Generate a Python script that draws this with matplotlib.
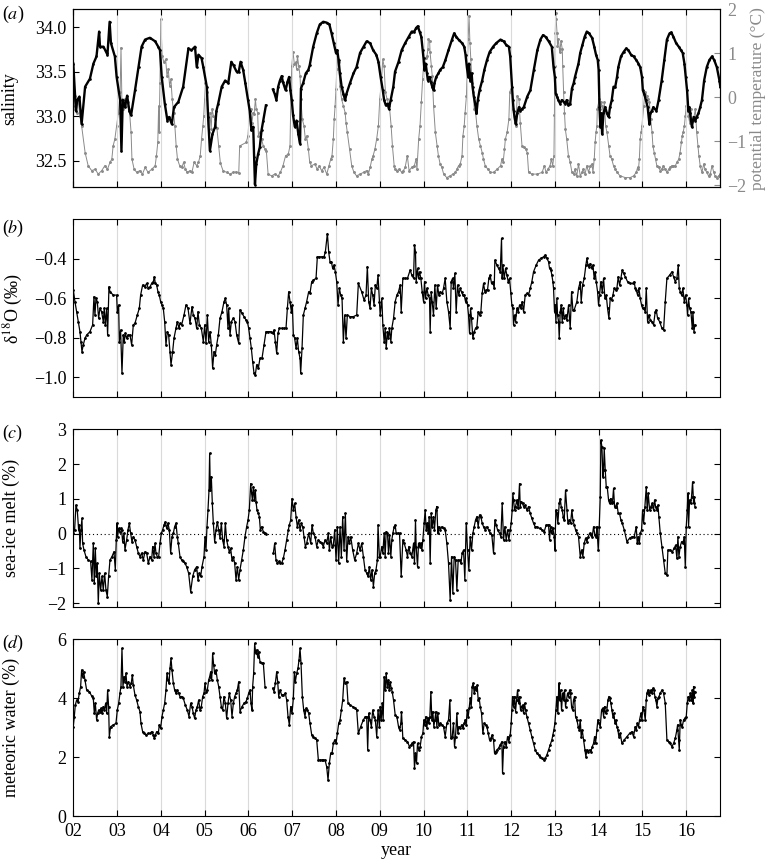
#!/usr/bin/env python3
"""Four-panel time series: salinity/temperature, d18O, sea-ice melt, meteoric water."""

import matplotlib
matplotlib.use("Agg")
import matplotlib.pyplot as plt
import numpy as np

nan = float("nan")

# (year, value) pairs
salinity = [
    (2002.00, 33.59), (2002.06, 33.06), (2002.09, 33.18), (2002.14, 33.22), (2002.17, 33.03), (2002.19, 32.91),
    (2002.27, 33.33), (2002.38, 33.42), (2002.46, 33.59), (2002.53, 33.67), (2002.59, 33.95), (2002.61, 33.78),
    (2002.69, 33.78), (2002.76, 33.71), (2002.78, 33.69), (2002.83, 34.06), (2002.86, 33.82), (2002.95, 33.67),
    (2002.99, 33.44), (2003.07, 33.18), (2003.10, 32.61), (2003.13, 33.18), (2003.18, 33.10), (2003.23, 33.23),
    (2003.28, 33.06), (2003.32, 33.01), (2003.41, 33.29), (2003.49, 33.55), (2003.56, 33.78), (2003.64, 33.86),
    (2003.75, 33.88), (2003.87, 33.84), (2003.94, 33.78), (2003.98, 33.74), (2004.02, 33.44), (2004.09, 33.14),
    (2004.15, 32.95), (2004.19, 32.99), (2004.25, 32.91), (2004.30, 33.10), (2004.40, 33.16), (2004.51, 33.33),
    (2004.63, 33.76), (2004.70, 33.74), (2004.78, 33.78), (2004.82, 33.55), (2004.86, 33.69), (2004.93, 33.65),
    (2004.97, 33.55), (2005.05, 33.33), (2005.08, 32.99), (2005.12, 32.61), (2005.18, 32.80), (2005.24, 32.88),
    (2005.27, 33.06), (2005.31, 33.14), (2005.39, 33.33), (2005.47, 33.40), (2005.54, 33.37), (2005.61, 33.61),
    (2005.66, 33.57), (2005.73, 33.50), (2005.78, 33.50), (2005.82, 33.61), (2005.88, 33.52), (2005.93, 33.37),
    (2005.99, 33.18), (2006.03, 33.06), (2006.07, 32.84), (2006.11, 32.88), (2006.13, 32.54), (2006.15, 32.23),
    (2006.18, 32.46), (2006.22, 32.57), (2006.26, 32.65), (2006.30, 32.84), (2006.34, 32.95), (2006.40, 33.12),
    (2006.48, nan),
    (2006.56, 33.30), (2006.60, 33.25), (2006.64, 33.18), (2006.68, 33.33), (2006.72, 33.40), (2006.76, 33.45),
    (2006.79, 33.38), (2006.83, 33.32), (2006.85, 33.29), (2006.89, 33.38), (2006.93, 33.44), (2006.96, 33.29),
    (2006.99, 33.18), (2007.02, 33.01), (2007.06, 32.88), (2007.10, 32.95), (2007.14, 32.80), (2007.18, 32.69),
    (2007.20, 33.31), (2007.25, 33.37), (2007.31, 33.48), (2007.37, 33.52), (2007.40, 33.57), (2007.48, 33.78),
    (2007.56, 33.93), (2007.63, 34.03), (2007.71, 34.06), (2007.79, 34.05), (2007.85, 34.03), (2007.90, 33.93),
    (2007.95, 33.82), (2008.00, 33.71), (2008.03, 33.74), (2008.06, 33.63), (2008.09, 33.48), (2008.13, 33.33),
    (2008.17, 33.25), (2008.21, 33.18), (2008.24, 33.25), (2008.32, 33.37), (2008.40, 33.48), (2008.47, 33.55),
    (2008.55, 33.71), (2008.63, 33.78), (2008.70, 33.84), (2008.78, 33.82), (2008.85, 33.74), (2008.92, 33.69),
    (2008.97, 33.61), (2009.02, 33.44), (2009.07, 33.29), (2009.10, 33.18), (2009.14, 33.12), (2009.18, 33.14),
    (2009.21, 33.08), (2009.25, 33.18), (2009.31, 33.33), (2009.35, 33.50), (2009.43, 33.61), (2009.50, 33.74),
    (2009.58, 33.82), (2009.66, 33.89), (2009.73, 33.95), (2009.79, 33.95), (2009.83, 33.99), (2009.87, 34.01),
    (2009.91, 33.95), (2009.95, 33.89), (2009.98, 33.74), (2010.00, 33.65), (2010.02, 33.52), (2010.05, 33.59),
    (2010.08, 33.48), (2010.10, 33.40), (2010.14, 33.44), (2010.17, 33.38), (2010.20, 33.33), (2010.23, 33.29),
    (2010.25, 33.37), (2010.29, 33.44), (2010.34, 33.48), (2010.38, 33.52), (2010.44, 33.55), (2010.50, 33.63),
    (2010.57, 33.74), (2010.65, 33.86), (2010.70, 33.93), (2010.75, 33.89), (2010.80, 33.86), (2010.88, 33.82),
    (2010.93, 33.78), (2010.96, 33.69), (2010.99, 33.55), (2011.02, 33.44), (2011.04, 33.59), (2011.07, 33.40),
    (2011.10, 33.48), (2011.12, 33.33), (2011.15, 33.22), (2011.18, 33.14), (2011.21, 33.03), (2011.24, 33.18),
    (2011.28, 33.29), (2011.34, 33.40), (2011.39, 33.52), (2011.45, 33.63), (2011.51, 33.72), (2011.59, 33.78),
    (2011.66, 33.82), (2011.76, 33.86), (2011.83, 33.84), (2011.89, 33.80), (2011.95, 33.78), (2011.98, 33.67),
    (2012.02, 33.33), (2012.04, 33.18), (2012.06, 33.06), (2012.08, 32.99), (2012.11, 32.91), (2012.14, 33.03),
    (2012.18, 33.10), (2012.21, 33.06), (2012.25, 33.08), (2012.29, 33.10), (2012.37, 33.22), (2012.44, 33.29),
    (2012.52, 33.52), (2012.60, 33.74), (2012.67, 33.86), (2012.73, 33.91), (2012.79, 33.89), (2012.86, 33.84),
    (2012.93, 33.78), (2012.97, 33.55), (2013.00, 33.44), (2013.02, 33.25), (2013.05, 33.22), (2013.08, 33.18),
    (2013.12, 33.14), (2013.16, 33.18), (2013.20, 33.16), (2013.24, 33.14), (2013.27, 33.18), (2013.31, 33.12),
    (2013.35, 33.14), (2013.39, 33.31), (2013.43, 33.37), (2013.46, 33.44), (2013.54, 33.59), (2013.58, 33.71),
    (2013.63, 33.80), (2013.68, 33.89), (2013.73, 33.95), (2013.78, 33.93), (2013.85, 33.88), (2013.90, 33.78),
    (2013.94, 33.69), (2013.98, 33.63), (2014.00, 33.52), (2014.02, 33.10), (2014.04, 32.88), (2014.06, 33.03),
    (2014.08, 32.80), (2014.11, 33.03), (2014.15, 33.10), (2014.19, 33.03), (2014.23, 32.99), (2014.26, 33.10),
    (2014.30, 33.18), (2014.34, 33.33), (2014.38, 33.33), (2014.42, 33.44), (2014.45, 33.55), (2014.51, 33.67),
    (2014.57, 33.72), (2014.63, 33.76), (2014.68, 33.74), (2014.74, 33.69), (2014.80, 33.67), (2014.86, 33.63),
    (2014.91, 33.59), (2014.95, 33.55), (2014.99, 33.44), (2015.01, 33.29), (2015.04, 33.25), (2015.08, 33.18),
    (2015.12, 33.10), (2015.16, 32.91), (2015.18, 33.03), (2015.22, 33.06), (2015.25, 33.10), (2015.32, 33.06),
    (2015.37, 33.18), (2015.44, 33.40), (2015.50, 33.63), (2015.56, 33.86), (2015.62, 33.93), (2015.66, 33.94),
    (2015.71, 33.89), (2015.77, 33.82), (2015.83, 33.78), (2015.88, 33.74), (2015.92, 33.71), (2015.96, 33.59),
    (2015.99, 33.44), (2016.02, 33.29), (2016.05, 33.06), (2016.07, 33.10), (2016.09, 33.03), (2016.13, 32.88),
    (2016.17, 32.99), (2016.21, 32.95), (2016.24, 32.99), (2016.28, 33.03), (2016.32, 33.10), (2016.36, 33.18),
    (2016.41, 33.40), (2016.47, 33.55), (2016.53, 33.63), (2016.59, 33.67), (2016.64, 33.63), (2016.70, 33.55),
    (2016.76, 33.40), (2016.78, 33.33),
]

temperature = [
    (2002.00, -0.20), (2002.04, 0.03), (2002.08, -0.35), (2002.11, -0.05), (2002.15, -0.42), (2002.19, -0.65),
    (2002.27, -1.26), (2002.34, -1.56), (2002.42, -1.67), (2002.50, -1.64), (2002.57, -1.75), (2002.65, -1.67),
    (2002.72, -1.56), (2002.78, -1.64), (2002.84, -1.48), (2002.88, -1.41), (2002.91, -1.11), (2002.95, -0.95),
    (2002.99, -0.65), (2003.03, -0.35), (2003.07, 0.11), (2003.09, 1.13), (2003.11, -0.05), (2003.14, -0.27),
    (2003.17, -0.05), (2003.20, -0.20), (2003.24, -0.12), (2003.28, -0.27), (2003.32, -0.80), (2003.34, -1.41),
    (2003.39, -1.64), (2003.45, -1.71), (2003.52, -1.67), (2003.58, -1.75), (2003.64, -1.60), (2003.71, -1.71),
    (2003.79, -1.64), (2003.87, -1.56), (2003.90, -1.33), (2003.93, -1.03), (2003.95, -0.20), (2003.96, -0.80),
    (2003.98, 0.33), (2004.00, 1.77), (2004.03, 0.94), (2004.07, 0.79), (2004.11, 0.86), (2004.14, 0.48),
    (2004.17, 0.64), (2004.20, 0.26), (2004.23, 0.41), (2004.26, -0.05), (2004.29, -0.35), (2004.32, -0.65),
    (2004.35, -1.11), (2004.38, -1.41), (2004.43, -1.56), (2004.48, -1.60), (2004.52, -1.48), (2004.56, -1.64),
    (2004.60, -1.71), (2004.67, -1.67), (2004.71, -1.71), (2004.76, -1.48), (2004.82, -1.56), (2004.86, -1.48),
    (2004.90, -1.33), (2004.93, -0.95), (2004.96, -0.65), (2004.98, -0.42), (2005.00, -0.05), (2005.02, 0.33),
    (2005.05, 0.11), (2005.07, -0.50), (2005.09, -0.80), (2005.12, -0.35), (2005.15, -0.73), (2005.17, -0.27),
    (2005.20, -0.42), (2005.24, -0.50), (2005.28, -0.70), (2005.32, -1.10), (2005.36, -1.50), (2005.42, -1.67),
    (2005.50, -1.71), (2005.58, -1.75), (2005.65, -1.71), (2005.72, -1.70), (2005.78, -1.72), (2005.80, -1.11),
    (2005.95, -1.03), (2005.99, -0.88), (2006.02, -0.42), (2006.05, -0.27), (2006.08, -0.58), (2006.11, -0.35),
    (2006.13, -0.39), (2006.16, -0.05), (2006.18, -0.27), (2006.21, -0.35), (2006.23, -0.88), (2006.26, -0.80),
    (2006.30, -0.95), (2006.34, -1.11), (2006.38, -1.18), (2006.41, -1.22), (2006.45, -1.75), (2006.53, -1.79),
    (2006.60, -1.75), (2006.68, -1.79), (2006.73, -1.71), (2006.79, -1.56), (2006.85, -1.33), (2006.91, -1.30),
    (2006.95, -1.11), (2006.97, -0.05), (2006.99, 0.71), (2007.02, 1.02), (2007.05, 0.75), (2007.08, 0.79),
    (2007.10, 0.64), (2007.12, 0.94), (2007.15, 0.71), (2007.18, 0.48), (2007.20, -0.05), (2007.23, -0.50),
    (2007.27, -0.65), (2007.30, -0.95), (2007.33, -0.88), (2007.37, -1.18), (2007.40, -1.48), (2007.44, -1.56),
    (2007.52, -1.52), (2007.57, -1.64), (2007.62, -1.56), (2007.67, -1.67), (2007.73, -1.60), (2007.79, -1.75),
    (2007.84, -1.56), (2007.88, -1.41), (2007.91, -1.33), (2007.94, -0.95), (2007.96, -0.50), (2007.98, -0.20),
    (2008.00, 0.18), (2008.02, 0.64), (2008.04, 0.86), (2008.06, 0.79), (2008.09, 0.26), (2008.13, -0.05),
    (2008.17, -0.20), (2008.21, -0.35), (2008.23, -0.58), (2008.26, -0.80), (2008.31, -1.18), (2008.36, -1.56),
    (2008.41, -1.71), (2008.47, -1.79), (2008.55, -1.75), (2008.63, -1.71), (2008.70, -1.67), (2008.74, -1.75),
    (2008.78, -1.60), (2008.82, -1.41), (2008.85, -1.33), (2008.89, -1.18), (2008.93, -0.95), (2008.97, -0.65),
    (2009.00, -0.05), (2009.03, 0.26), (2009.07, 0.86), (2009.10, 0.70), (2009.13, 0.11), (2009.17, -0.05),
    (2009.22, -0.20), (2009.26, -0.65), (2009.29, -1.11), (2009.33, -1.56), (2009.35, -1.64), (2009.39, -1.67),
    (2009.45, -1.64), (2009.50, -1.71), (2009.54, -1.67), (2009.58, -1.60), (2009.63, -1.33), (2009.67, -1.67),
    (2009.73, -1.60), (2009.79, -1.56), (2009.83, -1.41), (2009.85, -1.64), (2009.89, -0.95), (2009.92, -0.65),
    (2009.95, -0.12), (2009.98, 0.41), (2010.00, 0.71), (2010.02, 0.79), (2010.05, 0.90), (2010.08, 0.94),
    (2010.10, 1.09), (2010.11, 1.32), (2010.14, 1.28), (2010.15, 1.02), (2010.18, 0.71), (2010.20, 0.48),
    (2010.23, -0.20), (2010.27, -0.80), (2010.31, -1.11), (2010.34, -1.33), (2010.38, -1.52), (2010.42, -1.60),
    (2010.46, -1.75), (2010.53, -1.83), (2010.61, -1.79), (2010.67, -1.75), (2010.73, -1.71), (2010.76, -1.64),
    (2010.80, -1.56), (2010.84, -1.52), (2010.88, -1.33), (2010.90, -0.88), (2010.93, -0.65), (2010.95, -0.35),
    (2010.98, 0.03), (2011.00, 0.71), (2011.02, 1.32), (2011.04, 1.85), (2011.06, 1.24), (2011.08, 0.86),
    (2011.11, 0.33), (2011.13, 0.11), (2011.16, -0.27), (2011.19, -0.35), (2011.22, -0.65), (2011.26, -0.95),
    (2011.30, -1.11), (2011.34, -1.26), (2011.37, -1.41), (2011.41, -1.56), (2011.47, -1.64), (2011.53, -1.71),
    (2011.60, -1.71), (2011.68, -1.64), (2011.76, -1.56), (2011.79, -1.41), (2011.82, -1.48), (2011.85, -1.18),
    (2011.87, -0.95), (2011.91, -0.80), (2011.95, -0.50), (2011.97, 0.11), (2011.99, 0.18), (2012.02, -0.05),
    (2012.05, -0.27), (2012.08, -0.58), (2012.11, -0.65), (2012.14, 0.03), (2012.18, -0.05), (2012.21, -0.58),
    (2012.25, -1.11), (2012.29, -1.14), (2012.33, -1.18), (2012.37, -1.26), (2012.40, -1.71), (2012.48, -1.75),
    (2012.60, -1.75), (2012.71, -1.71), (2012.76, -1.56), (2012.80, -1.71), (2012.84, -1.64), (2012.89, -1.56),
    (2012.92, -1.41), (2012.95, -1.56), (2012.98, -1.33), (2012.99, -0.40), (2013.00, 0.71), (2013.01, 1.47),
    (2013.02, 1.92), (2013.03, 1.77), (2013.05, 1.47), (2013.06, 1.17), (2013.08, 1.32), (2013.11, 1.02),
    (2013.12, 1.09), (2013.14, 1.28), (2013.17, 1.09), (2013.18, 0.71), (2013.20, 0.11), (2013.22, -0.35),
    (2013.24, -0.73), (2013.27, -0.95), (2013.31, -1.33), (2013.35, -1.48), (2013.39, -1.71), (2013.43, -1.75),
    (2013.46, -1.64), (2013.50, -1.79), (2013.54, -1.52), (2013.58, -1.79), (2013.62, -1.71), (2013.65, -1.64),
    (2013.69, -1.75), (2013.73, -1.56), (2013.77, -1.71), (2013.81, -1.56), (2013.85, -1.52), (2013.87, -1.71),
    (2013.90, -1.41), (2013.92, -1.03), (2013.94, -0.80), (2013.96, -0.65), (2013.97, -0.27), (2014.00, -0.12),
    (2014.02, -0.05), (2014.04, -0.27), (2014.06, -0.12), (2014.08, -0.20), (2014.11, -0.35), (2014.13, -0.12),
    (2014.16, -0.65), (2014.19, -0.80), (2014.23, -1.11), (2014.26, -1.33), (2014.30, -1.41), (2014.34, -1.56),
    (2014.38, -1.64), (2014.42, -1.71), (2014.49, -1.79), (2014.61, -1.83), (2014.72, -1.83), (2014.80, -1.79),
    (2014.86, -1.71), (2014.89, -1.60), (2014.91, -1.64), (2014.93, -1.41), (2014.95, -0.95), (2014.97, -0.80),
    (2014.99, -0.65), (2015.03, -0.20), (2015.05, 0.03), (2015.07, 0.11), (2015.10, 0.03), (2015.13, -0.05),
    (2015.16, -0.12), (2015.19, -0.50), (2015.22, -0.80), (2015.24, -1.11), (2015.27, -1.26), (2015.30, -1.41),
    (2015.33, -1.56), (2015.37, -1.60), (2015.41, -1.67), (2015.44, -1.64), (2015.48, -1.56), (2015.52, -1.64),
    (2015.56, -1.71), (2015.60, -1.64), (2015.64, -1.60), (2015.67, -1.56), (2015.71, -1.56), (2015.75, -1.56),
    (2015.79, -1.48), (2015.83, -1.41), (2015.86, -1.26), (2015.89, -1.03), (2015.91, -0.88), (2015.93, -0.80),
    (2015.96, -0.65), (2015.98, -0.42), (2016.00, -0.20), (2016.02, -0.12), (2016.05, -0.42), (2016.08, -0.58),
    (2016.11, -0.27), (2016.13, -0.65), (2016.17, -0.50), (2016.21, -0.27), (2016.24, -0.80), (2016.27, -1.11),
    (2016.29, -1.33), (2016.32, -1.56), (2016.36, -1.71), (2016.40, -1.52), (2016.43, -1.64), (2016.47, -1.71),
    (2016.51, -1.79), (2016.55, -1.75), (2016.59, -1.56), (2016.63, -1.71), (2016.66, -1.79), (2016.70, -1.83),
    (2016.74, -1.79), (2016.78, -1.75),
]

d18o = [
    (2002.000, -0.558), (2002.038, -0.617), (2002.076, -0.668), (2002.114, -0.718), (2002.152, -0.769),
    (2002.175, -0.820), (2002.198, -0.870), (2002.228, -0.836), (2002.267, -0.803), (2002.305, -0.786),
    (2002.381, -0.769), (2002.442, -0.735), (2002.472, -0.592), (2002.495, -0.685), (2002.518, -0.601),
    (2002.548, -0.617), (2002.579, -0.702), (2002.609, -0.651), (2002.647, -0.668), (2002.685, -0.718),
    (2002.708, -0.651), (2002.731, -0.735), (2002.762, -0.651), (2002.784, -0.786), (2002.815, -0.542),
    (2002.838, -0.567), (2002.914, -0.584), (2002.990, -0.584), (2003.005, -0.668), (2003.036, -0.634),
    (2003.051, -0.820), (2003.081, -0.761), (2003.112, -0.980), (2003.142, -0.786), (2003.165, -0.820),
    (2003.188, -0.777), (2003.219, -0.803), (2003.249, -0.786), (2003.295, -0.786), (2003.333, -0.836),
    (2003.371, -0.735), (2003.409, -0.727), (2003.462, -0.685), (2003.508, -0.651), (2003.538, -0.584),
    (2003.584, -0.533), (2003.630, -0.542), (2003.676, -0.525), (2003.714, -0.550), (2003.752, -0.542),
    (2003.790, -0.525), (2003.828, -0.516), (2003.851, -0.491), (2003.874, -0.525), (2003.904, -0.533),
    (2003.934, -0.567), (2003.965, -0.584), (2003.995, -0.617), (2004.026, -0.634), (2004.056, -0.651),
    (2004.087, -0.718), (2004.117, -0.836), (2004.148, -0.769), (2004.178, -0.786), (2004.209, -0.870),
    (2004.232, -0.937), (2004.270, -0.870), (2004.300, -0.803), (2004.346, -0.752), (2004.376, -0.718),
    (2004.414, -0.752), (2004.437, -0.727), (2004.475, -0.735), (2004.529, -0.685), (2004.574, -0.634),
    (2004.620, -0.651), (2004.666, -0.727), (2004.711, -0.643), (2004.742, -0.685), (2004.780, -0.702),
    (2004.818, -0.752), (2004.848, -0.668), (2004.879, -0.735), (2004.925, -0.752), (2004.970, -0.820),
    (2005.001, -0.735), (2005.031, -0.828), (2005.062, -0.685), (2005.092, -0.820), (2005.123, -0.769),
    (2005.153, -0.836), (2005.183, -0.954), (2005.214, -0.870), (2005.244, -0.887), (2005.275, -0.836),
    (2005.313, -0.786), (2005.351, -0.702), (2005.397, -0.668), (2005.443, -0.617), (2005.473, -0.601),
    (2005.503, -0.634), (2005.534, -0.752), (2005.549, -0.651), (2005.580, -0.786), (2005.610, -0.718),
    (2005.656, -0.702), (2005.694, -0.718), (2005.732, -0.786), (2005.778, -0.828), (2005.808, -0.659),
    (2005.854, -0.676), (2005.899, -0.693), (2005.945, -0.710), (2005.976, -0.718), (2006.006, -0.752),
    (2006.036, -0.803), (2006.067, -0.853), (2006.097, -0.921), (2006.128, -0.980), (2006.158, -0.988),
    (2006.189, -0.937), (2006.227, -0.954), (2006.265, -0.904), (2006.311, -0.904), (2006.356, -0.836),
    (2006.402, -0.769), (2006.455, -0.769), (2006.509, -0.769), (2006.554, -0.777), (2006.585, -0.761),
    (2006.615, -0.820), (2006.646, -0.879), (2006.676, -0.777), (2006.707, -0.752), (2006.760, -0.752),
    (2006.813, -0.752), (2006.859, -0.752), (2006.890, -0.651), (2006.920, -0.567), (2006.950, -0.617),
    (2006.981, -0.668), (2007.004, -0.634), (2007.027, -0.786), (2007.057, -0.803), (2007.088, -0.853),
    (2007.118, -0.803), (2007.148, -0.870), (2007.179, -0.904), (2007.194, -0.980), (2007.225, -0.853),
    (2007.255, -0.685), (2007.293, -0.651), (2007.331, -0.617), (2007.377, -0.567), (2007.407, -0.575),
    (2007.446, -0.516), (2007.484, -0.508), (2007.545, -0.499), (2007.575, -0.390), (2007.621, -0.390),
    (2007.674, -0.390), (2007.727, -0.390), (2007.758, -0.365), (2007.804, -0.272), (2007.834, -0.365),
    (2007.864, -0.415), (2007.895, -0.415), (2007.925, -0.449), (2007.956, -0.432), (2007.986, -0.466),
    (2008.017, -0.516), (2008.047, -0.634), (2008.078, -0.550), (2008.108, -0.584), (2008.139, -0.601),
    (2008.169, -0.820), (2008.199, -0.685), (2008.230, -0.803), (2008.260, -0.685), (2008.321, -0.693),
    (2008.398, -0.693), (2008.474, -0.685), (2008.512, -0.525), (2008.588, -0.567), (2008.641, -0.609),
    (2008.687, -0.584), (2008.717, -0.440), (2008.748, -0.617), (2008.778, -0.651), (2008.809, -0.550),
    (2008.839, -0.584), (2008.870, -0.634), (2008.900, -0.533), (2008.931, -0.550), (2008.961, -0.483),
    (2008.992, -0.617), (2009.010, -0.685), (2009.048, -0.601), (2009.071, -0.735), (2009.101, -0.820),
    (2009.124, -0.752), (2009.147, -0.853), (2009.177, -0.769), (2009.200, -0.803), (2009.223, -0.752),
    (2009.254, -0.820), (2009.276, -0.752), (2009.315, -0.702), (2009.353, -0.617), (2009.391, -0.584),
    (2009.429, -0.567), (2009.467, -0.533), (2009.490, -0.668), (2009.528, -0.499), (2009.581, -0.499),
    (2009.634, -0.499), (2009.695, -0.457), (2009.733, -0.483), (2009.772, -0.499), (2009.794, -0.331),
    (2009.817, -0.365), (2009.832, -0.516), (2009.863, -0.449), (2009.886, -0.499), (2009.909, -0.466),
    (2009.939, -0.499), (2009.970, -0.567), (2010.000, -0.617), (2010.023, -0.516), (2010.046, -0.601),
    (2010.076, -0.550), (2010.107, -0.584), (2010.137, -0.601), (2010.152, -0.769), (2010.175, -0.567),
    (2010.198, -0.617), (2010.228, -0.685), (2010.259, -0.533), (2010.289, -0.651), (2010.320, -0.533),
    (2010.350, -0.584), (2010.381, -0.567), (2010.427, -0.575), (2010.457, -0.550), (2010.495, -0.499),
    (2010.533, -0.617), (2010.571, -0.668), (2010.609, -0.752), (2010.632, -0.516), (2010.663, -0.499),
    (2010.685, -0.550), (2010.716, -0.474), (2010.746, -0.668), (2010.777, -0.533), (2010.807, -0.584),
    (2010.838, -0.550), (2010.868, -0.567), (2010.899, -0.584), (2010.929, -0.584), (2010.960, -0.617),
    (2010.975, -0.601), (2011.005, -0.634), (2011.028, -0.685), (2011.051, -0.777), (2011.074, -0.651),
    (2011.097, -0.702), (2011.127, -0.803), (2011.158, -0.769), (2011.188, -0.752), (2011.219, -0.744),
    (2011.249, -0.668), (2011.280, -0.685), (2011.310, -0.668), (2011.340, -0.575), (2011.371, -0.525),
    (2011.401, -0.567), (2011.432, -0.558), (2011.462, -0.558), (2011.493, -0.499), (2011.523, -0.483),
    (2011.554, -0.525), (2011.584, -0.516), (2011.615, -0.550), (2011.630, -0.407), (2011.676, -0.432),
    (2011.714, -0.449), (2011.752, -0.466), (2011.782, -0.297), (2011.797, -0.499), (2011.813, -0.432),
    (2011.843, -0.499), (2011.874, -0.449), (2011.904, -0.483), (2011.935, -0.516), (2011.965, -0.499),
    (2011.995, -0.575), (2012.018, -0.634), (2012.041, -0.651), (2012.056, -0.735), (2012.079, -0.685),
    (2012.102, -0.718), (2012.133, -0.651), (2012.163, -0.668), (2012.193, -0.634), (2012.224, -0.651),
    (2012.254, -0.617), (2012.285, -0.668), (2012.323, -0.584), (2012.361, -0.575), (2012.399, -0.584),
    (2012.437, -0.550), (2012.475, -0.516), (2012.513, -0.466), (2012.574, -0.432), (2012.628, -0.407),
    (2012.681, -0.398), (2012.742, -0.390), (2012.780, -0.381), (2012.818, -0.398), (2012.856, -0.415),
    (2012.879, -0.449), (2012.909, -0.457), (2012.932, -0.483), (2012.955, -0.516), (2012.970, -0.550),
    (2012.993, -0.668), (2013.008, -0.634), (2013.024, -0.718), (2013.046, -0.601), (2013.062, -0.685),
    (2013.085, -0.718), (2013.100, -0.803), (2013.123, -0.668), (2013.145, -0.634), (2013.168, -0.718),
    (2013.191, -0.651), (2013.214, -0.702), (2013.244, -0.685), (2013.275, -0.710), (2013.313, -0.634),
    (2013.351, -0.752), (2013.382, -0.567), (2013.412, -0.659), (2013.442, -0.659), (2013.503, -0.617),
    (2013.541, -0.550), (2013.580, -0.516), (2013.602, -0.617), (2013.633, -0.533), (2013.671, -0.499),
    (2013.709, -0.432), (2013.732, -0.398), (2013.755, -0.432), (2013.785, -0.440), (2013.808, -0.424),
    (2013.846, -0.449), (2013.869, -0.432), (2013.899, -0.499), (2013.922, -0.466), (2013.945, -0.516),
    (2013.976, -0.567), (2013.998, -0.634), (2014.021, -0.584), (2014.052, -0.516), (2014.082, -0.567),
    (2014.113, -0.499), (2014.143, -0.601), (2014.174, -0.584), (2014.204, -0.651), (2014.235, -0.702),
    (2014.265, -0.601), (2014.296, -0.609), (2014.326, -0.584), (2014.356, -0.550), (2014.387, -0.558),
    (2014.417, -0.550), (2014.448, -0.491), (2014.478, -0.533), (2014.509, -0.499), (2014.539, -0.457),
    (2014.570, -0.474), (2014.608, -0.491), (2014.661, -0.516), (2014.722, -0.525), (2014.783, -0.525),
    (2014.813, -0.516), (2014.836, -0.550), (2014.859, -0.558), (2014.890, -0.584), (2014.920, -0.550),
    (2014.950, -0.601), (2014.981, -0.634), (2015.004, -0.651), (2015.027, -0.651), (2015.065, -0.668),
    (2015.088, -0.550), (2015.118, -0.718), (2015.149, -0.685), (2015.179, -0.710), (2015.217, -0.718),
    (2015.255, -0.735), (2015.293, -0.668), (2015.316, -0.659), (2015.347, -0.702), (2015.392, -0.718),
    (2015.446, -0.752), (2015.484, -0.761), (2015.522, -0.617), (2015.560, -0.499), (2015.621, -0.483),
    (2015.674, -0.466), (2015.712, -0.491), (2015.750, -0.516), (2015.788, -0.499), (2015.819, -0.432),
    (2015.842, -0.550), (2015.864, -0.567), (2015.895, -0.584), (2015.925, -0.550), (2015.956, -0.617),
    (2015.986, -0.584), (2016.016, -0.634), (2016.032, -0.685), (2016.055, -0.601), (2016.078, -0.651),
    (2016.108, -0.668), (2016.139, -0.752), (2016.154, -0.668), (2016.177, -0.769), (2016.199, -0.735),
]

sea_ice_melt = [
    (2002.000, 0.01), (2002.030, 0.11), (2002.061, 0.82), (2002.091, 0.68), (2002.122, 0.11), (2002.137, 0.25),
    (2002.152, -0.42), (2002.175, 0.11), (2002.198, 0.44), (2002.213, -0.28), (2002.244, -0.47), (2002.289, -0.66),
    (2002.343, -0.76), (2002.396, -0.80), (2002.426, -1.33), (2002.457, -0.28), (2002.480, -1.43), (2002.503, -0.42),
    (2002.526, -1.23), (2002.548, -0.85), (2002.571, -2.00), (2002.594, -1.14), (2002.625, -1.62), (2002.655, -1.23),
    (2002.685, -1.62), (2002.716, -1.14), (2002.746, -1.62), (2002.777, -1.81), (2002.807, -1.23), (2002.838, -0.76),
    (2002.883, -0.66), (2002.929, -0.52), (2002.960, -1.04), (2002.982, -0.18), (2002.998, 0.30), (2003.013, -0.09),
    (2003.036, 0.15), (2003.059, 0.06), (2003.081, 0.15), (2003.104, 0.11), (2003.127, -0.23), (2003.158, 0.01),
    (2003.180, -0.47), (2003.219, -0.18), (2003.249, 0.11), (2003.280, 0.30), (2003.310, 0.01), (2003.340, -0.23),
    (2003.371, -0.09), (2003.409, -0.18), (2003.447, -0.37), (2003.485, -0.56), (2003.523, -0.66), (2003.561, -0.56),
    (2003.599, -0.76), (2003.637, -0.52), (2003.676, -0.56), (2003.714, -0.85), (2003.752, -0.66), (2003.790, -0.76),
    (2003.813, -0.37), (2003.843, -0.66), (2003.866, -0.28), (2003.889, -0.56), (2003.919, -0.66), (2003.950, -0.66),
    (2003.980, -0.28), (2004.011, 0.01), (2004.041, 0.11), (2004.072, 0.25), (2004.102, 0.34), (2004.133, 0.15),
    (2004.163, 0.30), (2004.193, 0.11), (2004.224, -0.56), (2004.254, -0.09), (2004.285, 0.01), (2004.315, 0.20),
    (2004.346, 0.30), (2004.376, -0.09), (2004.399, -0.28), (2004.437, -0.66), (2004.475, -0.76), (2004.513, -0.80),
    (2004.551, -0.85), (2004.589, -0.95), (2004.635, -1.14), (2004.681, -1.67), (2004.727, -1.23), (2004.772, -1.04),
    (2004.818, -0.95), (2004.848, -1.33), (2004.879, -1.14), (2004.909, -1.23), (2004.940, -0.95), (2004.986, -0.66),
    (2005.008, -0.09), (2005.031, -0.47), (2005.054, 0.20), (2005.077, 0.68), (2005.100, 1.25), (2005.115, 2.31),
    (2005.130, 1.25), (2005.153, 1.64), (2005.176, 0.87), (2005.199, 0.30), (2005.229, -0.23), (2005.260, 0.11),
    (2005.290, 0.34), (2005.321, 0.11), (2005.351, -0.13), (2005.382, 0.30), (2005.412, -0.18), (2005.442, -0.37),
    (2005.473, 0.30), (2005.503, -0.18), (2005.534, -0.37), (2005.564, -0.52), (2005.595, -0.42), (2005.625, -0.76),
    (2005.656, -0.66), (2005.686, -0.85), (2005.717, -1.33), (2005.747, -0.95), (2005.778, -1.33), (2005.808, -1.04),
    (2005.846, -0.76), (2005.884, -0.47), (2005.922, -0.09), (2005.960, 0.20), (2005.991, 0.39), (2006.021, 0.68),
    (2006.052, 1.44), (2006.075, 1.16), (2006.090, 0.97), (2006.113, 1.35), (2006.136, 0.97), (2006.158, 1.25),
    (2006.174, 0.92), (2006.196, 0.68), (2006.227, 0.58), (2006.250, 0.49), (2006.273, 0.11), (2006.303, 0.20),
    (2006.341, 0.06), (2006.379, 0.01), (2006.402, -0.01),
    (2006.480, nan),
    (2006.570, -0.56), (2006.600, -0.28), (2006.630, -0.76), (2006.661, -0.85), (2006.691, -0.80), (2006.722, -0.85),
    (2006.760, -0.85), (2006.798, -0.71), (2006.836, -0.47), (2006.874, -0.18), (2006.912, 0.11), (2006.935, 0.25),
    (2006.966, 0.39), (2006.996, 1.01), (2007.027, 0.68), (2007.057, 0.87), (2007.088, 0.49), (2007.118, 0.20),
    (2007.148, 0.39), (2007.179, 0.11), (2007.209, 0.30), (2007.240, 0.20), (2007.270, -0.09), (2007.301, -0.37),
    (2007.331, -0.28), (2007.377, 0.01), (2007.423, -0.28), (2007.453, 0.25), (2007.484, 0.01), (2007.522, -0.09),
    (2007.560, -0.37), (2007.598, -0.18), (2007.636, -0.23), (2007.674, -0.28), (2007.712, -0.37), (2007.750, -0.18),
    (2007.788, -0.28), (2007.826, 0.01), (2007.849, -0.47), (2007.880, -0.09), (2007.910, -0.37), (2007.941, -0.33),
    (2007.971, 0.11), (2008.002, -0.76), (2008.032, 0.20), (2008.062, -0.85), (2008.093, 0.20), (2008.123, -0.66),
    (2008.154, 0.49), (2008.184, -0.47), (2008.215, 0.58), (2008.245, -0.80), (2008.276, -0.09), (2008.306, -0.28),
    (2008.337, -0.09), (2008.382, -0.47), (2008.428, -0.76), (2008.474, -0.56), (2008.512, -0.28), (2008.550, -0.47),
    (2008.588, -0.28), (2008.626, -0.66), (2008.664, -1.04), (2008.702, -1.14), (2008.733, -1.23), (2008.763, -0.95),
    (2008.794, -1.33), (2008.824, -1.04), (2008.855, -1.52), (2008.885, -1.14), (2008.915, -1.04), (2008.946, -0.76),
    (2008.961, 0.25), (2008.992, -0.66), (2009.010, -0.66), (2009.048, -0.37), (2009.071, -0.56), (2009.101, 0.01),
    (2009.124, -0.66), (2009.147, 0.06), (2009.177, 0.01), (2009.200, -0.56), (2009.223, -0.04), (2009.254, -0.66),
    (2009.276, -0.18), (2009.299, 0.01), (2009.330, 0.20), (2009.353, 0.25), (2009.375, 0.01), (2009.406, 0.01),
    (2009.452, 0.01), (2009.490, -1.23), (2009.528, -0.18), (2009.558, -0.28), (2009.604, -0.47), (2009.634, -0.66),
    (2009.665, -0.37), (2009.695, -0.56), (2009.733, -0.66), (2009.772, -0.28), (2009.794, -0.85), (2009.817, 0.39),
    (2009.832, -0.37), (2009.863, -0.95), (2009.886, -0.28), (2009.909, -0.37), (2009.939, -0.28), (2009.962, -0.47),
    (2009.985, -0.18), (2010.015, 0.30), (2010.038, 0.68), (2010.061, 0.11), (2010.084, 0.30), (2010.107, 0.01),
    (2010.129, 0.49), (2010.152, -0.85), (2010.175, 0.58), (2010.198, 0.20), (2010.228, 0.49), (2010.251, 0.11),
    (2010.282, 0.68), (2010.305, 0.78), (2010.327, 0.01), (2010.350, 0.20), (2010.381, 0.11), (2010.419, 0.20),
    (2010.457, 0.15), (2010.495, 0.11), (2010.533, -0.28), (2010.571, -0.85), (2010.609, -1.90), (2010.640, -0.66),
    (2010.670, -1.71), (2010.701, -0.66), (2010.731, -0.76), (2010.762, -1.62), (2010.792, -0.76), (2010.823, -0.76),
    (2010.853, -0.85), (2010.883, -0.56), (2010.914, -0.47), (2010.944, -1.33), (2010.975, 0.30), (2011.005, -0.47),
    (2011.036, -1.04), (2011.066, -0.09), (2011.097, -0.47), (2011.127, 0.01), (2011.158, 0.20), (2011.188, 0.39),
    (2011.219, 0.49), (2011.249, 0.20), (2011.280, 0.54), (2011.310, 0.49), (2011.340, 0.30), (2011.371, 0.20),
    (2011.409, 0.11), (2011.447, 0.20), (2011.485, 0.11), (2011.523, 0.01), (2011.561, -0.04), (2011.599, -0.56),
    (2011.630, 0.39), (2011.660, 0.25), (2011.691, 0.11), (2011.736, 0.01), (2011.767, -0.09), (2011.797, 0.87),
    (2011.828, -0.18), (2011.858, 0.20), (2011.889, -0.18), (2011.919, 0.11), (2011.950, -0.18), (2011.980, 0.11),
    (2012.003, 0.30), (2012.026, 0.68), (2012.041, 1.16), (2012.056, 0.97), (2012.079, 0.68), (2012.102, 0.78),
    (2012.133, 0.97), (2012.163, 0.73), (2012.193, 1.44), (2012.209, 0.78), (2012.231, 0.92), (2012.262, 0.87),
    (2012.285, 0.78), (2012.323, 0.82), (2012.361, 0.68), (2012.399, 0.78), (2012.437, 0.58), (2012.475, 0.44),
    (2012.513, 0.30), (2012.551, 0.20), (2012.589, 0.20), (2012.650, 0.15), (2012.704, 0.11), (2012.757, 0.06),
    (2012.803, 0.25), (2012.833, 0.25), (2012.856, 0.25), (2012.879, -0.18), (2012.902, 0.20), (2012.925, 0.01),
    (2012.955, 0.15), (2012.986, -0.09), (2013.001, -0.47), (2013.024, 0.68), (2013.046, 0.58), (2013.069, 0.30),
    (2013.100, 0.87), (2013.123, 1.01), (2013.145, 0.78), (2013.168, 0.68), (2013.191, 0.49), (2013.214, 0.39),
    (2013.244, 1.25), (2013.275, 0.68), (2013.298, 0.30), (2013.328, 0.39), (2013.359, 0.30), (2013.389, 0.68),
    (2013.412, 0.39), (2013.442, 0.25), (2013.473, 0.11), (2013.503, 0.01), (2013.541, -0.09), (2013.580, -0.66),
    (2013.610, -0.47), (2013.640, -0.66), (2013.671, -0.28), (2013.701, -0.13), (2013.732, -0.23), (2013.762, -0.09),
    (2013.793, 0.01), (2013.823, -0.04), (2013.854, -0.09), (2013.884, 0.20), (2013.915, -0.04), (2013.945, -0.09),
    (2013.960, 0.20), (2013.991, -0.47), (2014.014, 0.20), (2014.037, 1.06), (2014.052, 2.69), (2014.075, 2.50),
    (2014.098, 1.64), (2014.113, 1.83), (2014.128, 2.45), (2014.151, 1.83), (2014.174, 1.35), (2014.196, 1.35),
    (2014.227, 0.97), (2014.250, 0.87), (2014.273, 1.01), (2014.296, 0.87), (2014.318, 0.92), (2014.341, 1.30),
    (2014.364, 0.78), (2014.387, 0.78), (2014.417, 0.87), (2014.448, 0.58), (2014.478, 0.58), (2014.509, 0.39),
    (2014.539, 0.30), (2014.585, 0.11), (2014.646, -0.23), (2014.707, -0.13), (2014.760, -0.09), (2014.813, -0.09),
    (2014.859, 0.20), (2014.882, -0.28), (2014.905, -0.09), (2014.928, -0.28), (2014.950, 0.01), (2014.981, 0.11),
    (2015.004, 0.68), (2015.027, 0.30), (2015.057, 0.78), (2015.088, 1.35), (2015.110, 0.68), (2015.133, 1.16),
    (2015.164, 0.68), (2015.194, 0.78), (2015.225, 0.87), (2015.255, 0.68), (2015.278, 0.97), (2015.301, 0.78),
    (2015.331, 0.68), (2015.354, 0.82), (2015.377, 0.49), (2015.408, 0.01), (2015.446, -0.37), (2015.484, -0.76),
    (2015.522, -1.14), (2015.560, -1.19), (2015.583, -0.47), (2015.636, -0.47), (2015.682, -0.52), (2015.727, -0.42),
    (2015.758, -0.33), (2015.788, -0.71), (2015.811, -0.09), (2015.834, -0.66), (2015.864, -0.37), (2015.895, -0.23),
    (2015.925, -0.28), (2015.956, -0.09), (2015.979, -0.95), (2016.002, 0.20), (2016.024, 0.68), (2016.040, 1.16),
    (2016.055, 0.20), (2016.078, 0.97), (2016.101, 0.87), (2016.123, 1.06), (2016.146, 1.49), (2016.169, 0.87),
    (2016.184, 1.06), (2016.199, 0.78),
]

meteoric_water = [
    (2002.000, 3.04), (2002.023, 3.38), (2002.046, 3.77), (2002.076, 3.94), (2002.107, 3.89), (2002.137, 4.17),
    (2002.168, 4.40), (2002.190, 4.96), (2002.213, 4.73), (2002.236, 4.90), (2002.267, 4.62), (2002.305, 4.28),
    (2002.366, 4.23), (2002.419, 4.08), (2002.457, 4.00), (2002.480, 3.49), (2002.503, 3.83), (2002.533, 3.27),
    (2002.556, 3.49), (2002.579, 3.60), (2002.609, 3.55), (2002.632, 3.66), (2002.655, 3.49), (2002.685, 3.72),
    (2002.708, 3.60), (2002.739, 3.83), (2002.762, 3.49), (2002.784, 4.28), (2002.807, 3.72), (2002.823, 2.70),
    (2002.853, 3.04), (2002.914, 3.10), (2002.975, 3.15), (2003.005, 3.60), (2003.036, 3.83), (2003.066, 4.17),
    (2003.089, 4.40), (2003.112, 5.69), (2003.135, 4.40), (2003.158, 4.73), (2003.180, 4.56), (2003.203, 4.85),
    (2003.226, 4.40), (2003.257, 4.56), (2003.295, 4.40), (2003.325, 4.51), (2003.348, 4.79), (2003.371, 4.45),
    (2003.409, 4.11), (2003.447, 3.94), (2003.485, 3.72), (2003.523, 3.55), (2003.546, 3.15), (2003.584, 2.87),
    (2003.615, 2.81), (2003.660, 2.76), (2003.714, 2.81), (2003.752, 2.81), (2003.790, 2.87), (2003.828, 2.76),
    (2003.851, 2.64), (2003.874, 2.76), (2003.904, 2.87), (2003.942, 2.81), (2003.965, 3.10), (2003.995, 2.98),
    (2004.026, 3.38), (2004.056, 3.60), (2004.087, 3.83), (2004.117, 4.28), (2004.140, 4.85), (2004.163, 4.62),
    (2004.186, 4.51), (2004.209, 5.02), (2004.232, 5.36), (2004.254, 4.96), (2004.285, 4.51), (2004.315, 4.28),
    (2004.346, 4.17), (2004.376, 4.28), (2004.407, 4.17), (2004.437, 4.06), (2004.475, 4.06), (2004.513, 4.00),
    (2004.559, 3.77), (2004.605, 3.60), (2004.643, 3.38), (2004.681, 3.83), (2004.711, 3.72), (2004.742, 3.49),
    (2004.772, 3.32), (2004.802, 3.60), (2004.833, 3.72), (2004.864, 3.94), (2004.894, 3.60), (2004.925, 3.72),
    (2004.955, 4.06), (2004.986, 4.17), (2005.008, 4.51), (2005.031, 4.23), (2005.062, 4.28), (2005.092, 4.62),
    (2005.115, 4.73), (2005.138, 4.90), (2005.161, 4.62), (2005.183, 5.53), (2005.206, 5.13), (2005.229, 4.85),
    (2005.260, 4.96), (2005.290, 4.62), (2005.321, 4.40), (2005.351, 4.06), (2005.382, 3.72), (2005.412, 3.60),
    (2005.442, 4.06), (2005.473, 3.83), (2005.503, 3.32), (2005.534, 3.83), (2005.564, 4.17), (2005.595, 3.94),
    (2005.625, 3.38), (2005.656, 3.83), (2005.686, 4.06), (2005.717, 4.17), (2005.747, 4.28), (2005.778, 4.56),
    (2005.808, 3.55), (2005.854, 3.72), (2005.899, 3.83), (2005.945, 3.89), (2005.976, 4.00), (2006.006, 4.17),
    (2006.036, 4.28), (2006.059, 3.83), (2006.082, 3.60), (2006.097, 4.40), (2006.120, 4.85), (2006.143, 5.86),
    (2006.166, 5.53), (2006.189, 5.64), (2006.211, 5.41), (2006.234, 5.58), (2006.265, 5.24), (2006.303, 5.19),
    (2006.341, 5.19), (2006.379, 4.40),
    (2006.470, nan),
    (2006.554, 4.34), (2006.585, 4.23), (2006.615, 4.51), (2006.646, 4.90), (2006.669, 4.56), (2006.692, 4.06),
    (2006.722, 4.28), (2006.760, 4.11), (2006.798, 4.11), (2006.844, 4.17), (2006.874, 3.94), (2006.905, 3.38),
    (2006.935, 3.10), (2006.966, 3.72), (2006.996, 3.49), (2007.027, 4.00), (2007.050, 4.90), (2007.072, 4.56),
    (2007.103, 4.85), (2007.133, 5.02), (2007.156, 5.30), (2007.179, 5.69), (2007.202, 5.19), (2007.232, 4.06),
    (2007.263, 3.60), (2007.293, 3.38), (2007.316, 3.66), (2007.346, 3.60), (2007.377, 3.49), (2007.407, 3.15),
    (2007.446, 2.76), (2007.484, 2.70), (2007.529, 2.64), (2007.560, 2.59), (2007.598, 1.91), (2007.636, 1.91),
    (2007.674, 1.91), (2007.712, 1.91), (2007.750, 1.91), (2007.788, 1.68), (2007.819, 1.23), (2007.849, 1.80),
    (2007.880, 2.14), (2007.910, 2.14), (2007.941, 2.47), (2007.971, 2.59), (2008.002, 2.47), (2008.032, 2.81),
    (2008.062, 3.15), (2008.093, 3.27), (2008.123, 3.60), (2008.154, 3.94), (2008.184, 4.68), (2008.215, 4.51),
    (2008.245, 4.56), (2008.276, 3.83), (2008.321, 3.77), (2008.382, 3.72), (2008.443, 3.66), (2008.474, 3.60),
    (2008.512, 2.81), (2008.565, 3.04), (2008.626, 3.27), (2008.672, 3.38), (2008.702, 3.38), (2008.725, 2.25),
    (2008.748, 3.49), (2008.778, 3.27), (2008.809, 3.04), (2008.839, 3.60), (2008.870, 3.38), (2008.900, 3.27),
    (2008.931, 2.70), (2008.961, 3.60), (2008.992, 3.04), (2009.010, 3.72), (2009.033, 3.27), (2009.056, 3.83),
    (2009.078, 3.27), (2009.101, 4.73), (2009.124, 4.28), (2009.147, 4.85), (2009.170, 4.40), (2009.193, 4.62),
    (2009.216, 4.28), (2009.238, 4.56), (2009.261, 4.34), (2009.284, 4.23), (2009.315, 3.94), (2009.353, 3.44),
    (2009.391, 3.38), (2009.429, 3.04), (2009.452, 2.93), (2009.482, 3.15), (2009.497, 3.55), (2009.528, 2.64),
    (2009.581, 2.59), (2009.634, 2.53), (2009.680, 2.36), (2009.711, 2.42), (2009.741, 2.47), (2009.772, 2.53),
    (2009.794, 1.63), (2009.817, 2.14), (2009.840, 1.80), (2009.863, 2.47), (2009.893, 2.25), (2009.924, 2.36),
    (2009.954, 2.70), (2009.985, 2.81), (2010.008, 3.27), (2010.030, 3.10), (2010.053, 3.38), (2010.076, 2.98),
    (2010.099, 3.32), (2010.122, 3.15), (2010.145, 3.38), (2010.168, 4.23), (2010.190, 3.27), (2010.213, 3.55),
    (2010.236, 3.04), (2010.259, 3.27), (2010.282, 3.55), (2010.305, 3.04), (2010.327, 3.49), (2010.350, 3.10),
    (2010.381, 3.15), (2010.419, 3.10), (2010.457, 3.04), (2010.495, 2.70), (2010.533, 3.15), (2010.571, 3.27),
    (2010.602, 3.94), (2010.625, 2.64), (2010.655, 2.70), (2010.685, 3.15), (2010.708, 2.36), (2010.731, 2.70),
    (2010.762, 3.49), (2010.784, 2.81), (2010.807, 3.04), (2010.838, 2.98), (2010.868, 3.10), (2010.899, 2.98),
    (2010.929, 3.15), (2010.952, 3.27), (2010.975, 3.10), (2010.998, 3.60), (2011.021, 3.38), (2011.043, 3.66),
    (2011.066, 4.00), (2011.089, 3.72), (2011.112, 4.40), (2011.135, 4.51), (2011.158, 4.17), (2011.180, 4.40),
    (2011.203, 4.28), (2011.226, 4.45), (2011.249, 3.94), (2011.272, 4.00), (2011.295, 3.72), (2011.325, 3.49),
    (2011.356, 2.81), (2011.386, 3.15), (2011.417, 3.10), (2011.447, 3.04), (2011.478, 2.81), (2011.508, 2.59),
    (2011.538, 2.64), (2011.569, 2.76), (2011.599, 2.59), (2011.622, 2.14), (2011.645, 2.19), (2011.676, 2.25),
    (2011.714, 2.31), (2011.752, 2.42), (2011.790, 2.53), (2011.805, 1.46), (2011.828, 2.36), (2011.858, 2.53),
    (2011.889, 2.36), (2011.919, 2.70), (2011.950, 2.53), (2011.980, 2.76), (2012.003, 3.15), (2012.018, 3.60),
    (2012.033, 4.06), (2012.056, 3.72), (2012.079, 4.06), (2012.102, 3.55), (2012.125, 3.94), (2012.148, 4.28),
    (2012.171, 3.83), (2012.193, 4.06), (2012.216, 3.60), (2012.239, 3.72), (2012.262, 3.77), (2012.285, 3.49),
    (2012.308, 3.83), (2012.331, 3.60), (2012.361, 3.38), (2012.399, 3.15), (2012.437, 2.93), (2012.475, 2.70),
    (2012.513, 2.47), (2012.551, 2.25), (2012.589, 2.14), (2012.628, 2.08), (2012.666, 2.02), (2012.704, 1.97),
    (2012.742, 1.91), (2012.780, 1.97), (2012.818, 2.08), (2012.856, 2.25), (2012.894, 2.42), (2012.932, 2.59),
    (2012.955, 2.76), (2012.978, 2.93), (2013.001, 3.15), (2013.024, 3.60), (2013.046, 4.06), (2013.069, 3.49),
    (2013.092, 4.51), (2013.107, 3.94), (2013.130, 4.28), (2013.153, 3.60), (2013.176, 4.17), (2013.199, 3.94),
    (2013.221, 4.28), (2013.244, 3.72), (2013.267, 3.94), (2013.290, 4.17), (2013.313, 4.06), (2013.336, 4.28),
    (2013.359, 4.17), (2013.382, 3.72), (2013.404, 3.60), (2013.427, 3.94), (2013.450, 4.06), (2013.473, 3.38),
    (2013.503, 3.27), (2013.534, 3.04), (2013.557, 2.93), (2013.580, 3.27), (2013.602, 2.70), (2013.625, 2.93),
    (2013.656, 2.59), (2013.686, 2.25), (2013.709, 2.02), (2013.732, 2.25), (2013.762, 2.19), (2013.793, 2.25),
    (2013.823, 2.19), (2013.854, 2.36), (2013.884, 2.47), (2013.907, 2.70), (2013.930, 2.47), (2013.960, 2.93),
    (2013.983, 3.27), (2014.006, 3.15), (2014.037, 3.04), (2014.067, 3.60), (2014.090, 3.66), (2014.113, 3.38),
    (2014.136, 3.72), (2014.158, 3.49), (2014.189, 3.60), (2014.212, 3.94), (2014.235, 4.06), (2014.257, 4.00),
    (2014.280, 3.83), (2014.303, 3.60), (2014.326, 3.38), (2014.349, 3.49), (2014.372, 3.15), (2014.394, 3.27),
    (2014.417, 3.04), (2014.440, 2.93), (2014.463, 2.70), (2014.494, 2.81), (2014.532, 2.47), (2014.585, 2.59),
    (2014.646, 2.70), (2014.707, 2.81), (2014.760, 2.87), (2014.798, 2.70), (2014.836, 3.04), (2014.859, 2.93),
    (2014.882, 3.15), (2014.912, 3.04), (2014.935, 3.27), (2014.966, 3.49), (2014.989, 3.27), (2015.011, 3.72),
    (2015.034, 3.60), (2015.065, 3.27), (2015.088, 3.94), (2015.103, 4.17), (2015.126, 4.28), (2015.149, 4.11),
    (2015.171, 4.23), (2015.194, 4.28), (2015.217, 4.17), (2015.240, 4.34), (2015.263, 4.28), (2015.286, 4.06),
    (2015.308, 3.94), (2015.331, 3.72), (2015.354, 4.00), (2015.377, 4.06), (2015.408, 4.17), (2015.446, 4.28),
    (2015.484, 4.17), (2015.522, 3.83), (2015.560, 2.59), (2015.598, 2.53), (2015.636, 2.47), (2015.674, 2.36),
    (2015.712, 2.47), (2015.750, 2.64), (2015.788, 2.93), (2015.804, 3.10), (2015.826, 2.59), (2015.842, 2.25),
    (2015.864, 3.27), (2015.887, 3.10), (2015.910, 3.04), (2015.941, 3.27), (2015.971, 3.32), (2016.002, 3.38),
    (2016.024, 3.83), (2016.047, 4.06), (2016.070, 3.94), (2016.093, 4.17), (2016.116, 3.94), (2016.139, 4.28),
    (2016.154, 3.83), (2016.169, 4.40), (2016.184, 4.06), (2016.199, 4.23),
]

years = list(range(2002, 2017))
year_labels = [f"{y % 100:02d}" for y in years]

GREY = "#8a8a8a"
FS = 13


def unzip(pairs):
    arr = np.array(pairs, dtype=float)
    return arr[:, 0], arr[:, 1]


def style_axis(ax, show_xlabels=False):
    ax.set_xlim(2002, 2016.78)
    for y in years[1:]:
        ax.axvline(y, color="#dadada", lw=0.8, zorder=0)
    ax.set_xticks(years)
    if show_xlabels:
        ax.set_xticklabels(year_labels)
    else:
        ax.set_xticklabels([])
    ax.tick_params(direction="in", top=True, right=True, length=4, width=0.8,
                   labelsize=FS, pad=5)
    for sp in ax.spines.values():
        sp.set_linewidth(0.8)


def main():
    plt.rcParams["font.family"] = "serif"
    plt.rcParams["font.serif"] = ["Liberation Serif", "DejaVu Serif"]
    plt.rcParams["mathtext.fontset"] = "stix"

    fig = plt.figure(figsize=(7.69, 8.63), dpi=100)
    left, width = 0.0953, 0.8414
    ax_a = fig.add_axes([left, 0.7830, width, 0.2062])
    ax_b = fig.add_axes([left, 0.5400, width, 0.2059])
    ax_c = fig.add_axes([left, 0.2970, width, 0.2055])
    ax_d = fig.add_axes([left, 0.0541, width, 0.2051])

    # (a) salinity + potential temperature
    tw = ax_a.twinx()
    tx, ty = unzip(temperature)
    tw.plot(tx, ty, "-", color=GREY, lw=0.7, marker=".", ms=2.2)
    tw.set_ylim(-2.05, 2.0)
    tw.set_yticks([-2, -1, 0, 1, 2])
    tw.set_yticklabels(["\u22122", "\u22121", "0", "1", "2"])
    tw.tick_params(direction="in", length=4, labelsize=FS, labelcolor=GREY, color=GREY, pad=5)
    tw.set_ylabel("potential temperature (°C)", color=GREY, fontsize=12.5)
    tw.yaxis.set_label_coords(1.046, 0.5)
    ax_a.set_zorder(tw.get_zorder() + 1)
    ax_a.patch.set_visible(False)

    sx, sy = unzip(salinity)
    ax_a.plot(sx, sy, "-", color="k", lw=1.7, marker=".", ms=1.8)
    ax_a.set_ylim(32.2, 34.2)
    ax_a.set_yticks([32.5, 33.0, 33.5, 34.0])
    ax_a.set_yticklabels(["32.5", "33.0", "33.5", "34.0"])
    style_axis(ax_a)
    ax_a.tick_params(right=False)
    ax_a.set_ylabel("salinity", fontsize=FS)
    ax_a.yaxis.set_label_coords(-0.085, 0.5)

    # (b) d18O
    bx, by = unzip(d18o)
    ax_b.plot(bx, by, "-", color="k", lw=0.9, marker=".", ms=2)
    ax_b.set_ylim(-1.1, -0.2)
    ax_b.set_yticks([-1.0, -0.8, -0.6, -0.4])
    ax_b.set_yticklabels(["\u22121.0", "\u22120.8", "\u22120.6", "\u22120.4"])
    style_axis(ax_b)
    ax_b.set_ylabel("δ$^{18}$O (‰)", fontsize=FS)
    ax_b.yaxis.set_label_coords(-0.075, 0.5)

    # (c) sea-ice melt
    cx, cy = unzip(sea_ice_melt)
    ax_c.axhline(0, color="k", lw=0.8, ls=(0, (1, 2.5)), zorder=1)
    ax_c.plot(cx, cy, "-", color="k", lw=0.9, marker=".", ms=2)
    ax_c.set_ylim(-2.1, 3.0)
    ax_c.set_yticks([-2, -1, 0, 1, 2, 3])
    ax_c.set_yticklabels(["\u22122", "\u22121", "0", "1", "2", "3"])
    style_axis(ax_c)
    ax_c.set_ylabel("sea-ice melt (%)", fontsize=FS)
    ax_c.yaxis.set_label_coords(-0.083, 0.5)

    # (d) meteoric water
    dx, dy = unzip(meteoric_water)
    ax_d.plot(dx, dy, "-", color="k", lw=0.9, marker=".", ms=2)
    ax_d.set_ylim(0, 6)
    ax_d.set_yticks([0, 2, 4, 6])
    style_axis(ax_d, show_xlabels=True)
    ax_d.set_ylabel("meteoric water (%)", fontsize=FS)
    ax_d.yaxis.set_label_coords(-0.083, 0.5)
    ax_d.set_xlabel("year", fontsize=FS, labelpad=1)

    for ax, lab, yy in [(ax_a, "a", 0.974), (ax_b, "b", 0.951), (ax_c, "c", 0.979), (ax_d, "d", 0.979)]:
        ax.text(-0.110, yy, f"($\\mathit{{{lab}}}$)", transform=ax.transAxes,
                ha="left", va="center", fontsize=FS)

    fig.savefig("out.png", dpi=100)


if __name__ == "__main__":
    main()
